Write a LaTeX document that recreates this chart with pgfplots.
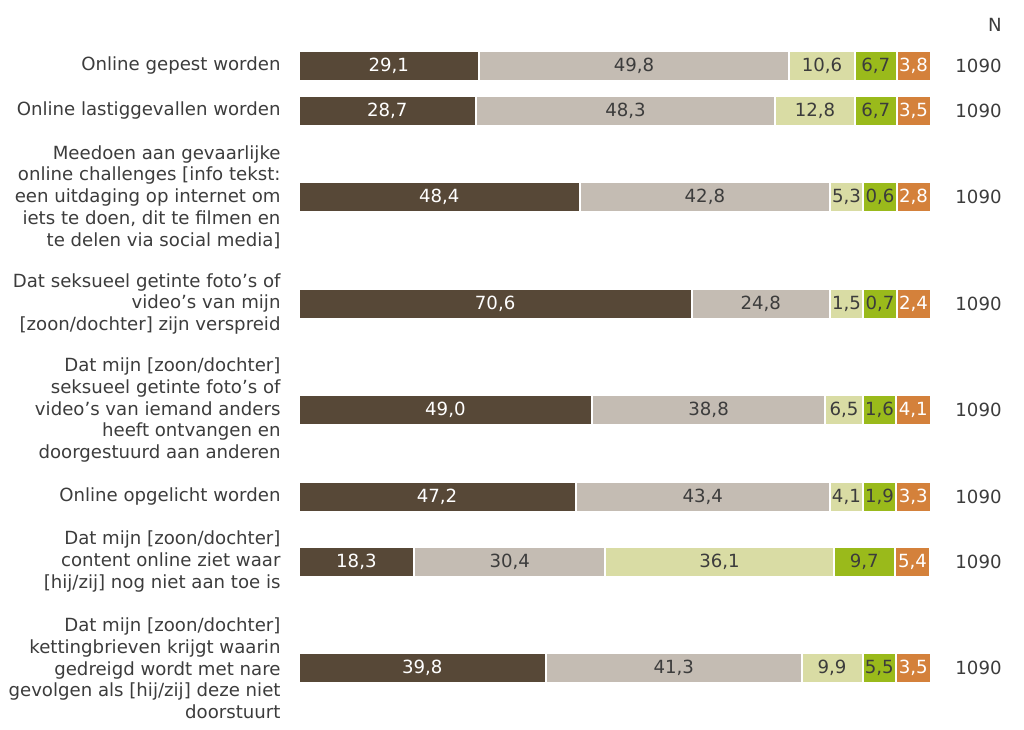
\documentclass[border=0pt]{standalone}
\usepackage{pgfplots}
\pgfplotsset{compat=1.18}
\usepackage{fontspec}
\setmainfont{DejaVu Sans}
\definecolor{c1}{HTML}{574837}
\definecolor{c2}{HTML}{C4BCB3}
\definecolor{c3}{HTML}{D9DCA4}
\definecolor{c4}{HTML}{9ABA1B}
\definecolor{c5}{HTML}{D4813B}
\definecolor{txt}{HTML}{3C3C3C}
\newcommand\myfont{\fontsize{13.6pt}{16.3pt}\selectfont}
\pgfplotsset{
  frame/.style={
    at={(223.875pt,0pt)}, anchor=south west,
    scale only axis, width=474pt, height=546.75pt,
    xmin=0, xmax=100, ymin=0, ymax=729, y dir=reverse, clip=false},
  lab/.style={only marks, mark=none, point meta=explicit symbolic,
    nodes near coords, nodes near coords style={anchor=center, font=\myfont, inner sep=0pt, text=#1}},
}
\begin{document}
\begin{tikzpicture}[font=\myfont]
\useasboundingbox (0,0) rectangle (768pt,546.75pt);
\begin{axis}[frame,
  xbar stacked, bar width=22.5pt,
  axis line style={draw=none}, major tick length=0pt,
  xtick=\empty,
  ytick={65.7,110.5,197,303.8,410,496.7,561.5,668.3},
  yticklabels={
    {Online gepest worden},
    {Online lastiggevallen worden},
    {Meedoen aan gevaarlijke\\online challenges [info tekst:\\een uitdaging op internet om\\iets te doen, dit te filmen en\\te delen via social media]},
    {Dat seksueel getinte foto’s of\\video’s van mijn\\{}[zoon/dochter] zijn verspreid},
    {Dat mijn [zoon/dochter]\\seksueel getinte foto’s of\\video’s van iemand anders\\heeft ontvangen en\\doorgestuurd aan anderen},
    {Online opgelicht worden},
    {Dat mijn [zoon/dochter]\\content online ziet waar\\{}[hij/zij] nog niet aan toe is},
    {Dat mijn [zoon/dochter]\\kettingbrieven krijgt waarin\\gedreigd wordt met nare\\gevolgen als [hij/zij] deze niet\\doorstuurt}},
  yticklabel style={align=right, text=txt, font=\myfont, inner sep=0pt, xshift=-13.3pt},
  every axis plot/.append style={draw=white, line width=1.5pt},
]
\addplot[fill=c1] coordinates {
 (28.56,65.7) (28.09,110.5) (44.54,197) (62.22,303.8)
 (46.47,410) (43.86,496.7) (18.32,561.5) (39.16,668.3)};
\addplot[fill=c2] coordinates {
 (49.05,65.7) (47.31,110.5) (39.51,197) (21.84,303.8)
 (36.84,410) (40.19,496.7) (30.22,561.5) (40.46,668.3)};
\addplot[fill=c3] coordinates {
 (10.44,65.7) (12.66,110.5) (5.32,197) (5.32,303.8)
 (6.01,410) (5.27,496.7) (36.14,561.5) (9.62,668.3)};
\addplot[fill=c4] coordinates {
 (6.57,65.7) (6.57,110.5) (5.25,197) (5.25,303.8)
 (5.22,410) (5.22,496.7) (9.65,561.5) (5.30,668.3)};
\addplot[fill=c5] coordinates {
 (5.38,65.7) (5.38,110.5) (5.38,197) (5.38,303.8)
 (5.46,410) (5.46,496.7) (5.66,561.5) (5.46,668.3)};
\node[text=txt, font=\myfont] at (axis cs:110.2,25) {N};
\node[text=txt, font=\myfont] at (axis cs:107.6,65.7) {1090};
\node[text=txt, font=\myfont] at (axis cs:107.6,110.5) {1090};
\node[text=txt, font=\myfont] at (axis cs:107.6,197) {1090};
\node[text=txt, font=\myfont] at (axis cs:107.6,303.8) {1090};
\node[text=txt, font=\myfont] at (axis cs:107.6,410) {1090};
\node[text=txt, font=\myfont] at (axis cs:107.6,496.7) {1090};
\node[text=txt, font=\myfont] at (axis cs:107.6,561.5) {1090};
\node[text=txt, font=\myfont] at (axis cs:107.6,668.3) {1090};
\end{axis}
\begin{axis}[frame, hide axis]
\addplot[lab=white] coordinates {
 (14.28,65.7) [29,1] (14.05,110.5) [28,7] (22.27,197) [48,4] (31.11,303.8) [70,6]
 (23.24,410) [49,0] (21.93,496.7) [47,2] (9.16,561.5) [18,3] (19.58,668.3) [39,8]};
\addplot[lab=txt] coordinates {
 (53.09,65.7) [49,8] (51.75,110.5) [48,3] (64.30,197) [42,8] (73.14,303.8) [24,8]
 (64.89,410) [38,8] (63.96,496.7) [43,4] (33.43,561.5) [30,4] (59.39,668.3) [41,3]};
\addplot[lab=txt] coordinates {
 (82.83,65.7) [10,6] (81.73,110.5) [12,8] (86.71,197) [5,3] (86.72,303.8) [1,5]
 (86.32,410) [6,5] (86.69,496.7) [4,1] (66.61,561.5) [36,1] (84.43,668.3) [9,9]};
\addplot[lab=txt] coordinates {
 (91.34,65.7) [6,7] (91.35,110.5) [6,7] (92.00,197) [0,6] (92.01,303.8) [0,7]
 (91.93,410) [1,6] (91.93,496.7) [1,9] (89.51,561.5) [9,7] (91.89,668.3) [5,5]};
\addplot[lab=white] coordinates {
 (97.31,65.7) [3,8] (97.32,110.5) [3,5] (97.31,197) [2,8] (97.32,303.8) [2,4]
 (97.27,410) [4,1] (97.27,496.7) [3,3] (97.16,561.5) [5,4] (97.27,668.3) [3,5]};
\end{axis}
\end{tikzpicture}
\end{document}
